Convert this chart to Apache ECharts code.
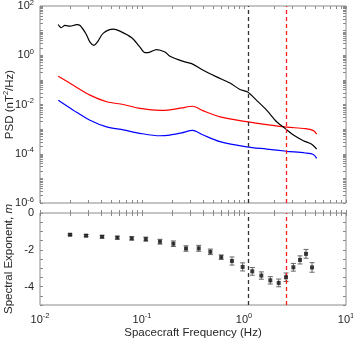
<!DOCTYPE html>
<html>
<head>
<meta charset="utf-8">
<script src="https://cdn.jsdelivr.net/npm/echarts@6/dist/echarts.min.js"></script>
<style>
  html, body { margin: 0; padding: 0; background: #fff; }
  #chart { width: 353px; height: 340px; }
</style>
</head>
<body>
<div id="chart"></div>
<script>
// total field PSD (Hz, nT^2/Hz)
var freqBlack = [0.0151, 0.0161, 0.0176, 0.0197, 0.0229, 0.0247, 0.0282, 0.0309, 0.0338, 0.0365,
  0.0418, 0.0524, 0.0608, 0.0793, 0.0955, 0.107, 0.115, 0.139, 0.168, 0.188, 0.254, 0.307, 0.399,
  0.540, 0.730, 0.914, 1.087, 1.33, 1.667, 2.09, 2.52, 3.05, 3.82, 4.61, 5.16];
var psdBlack = [17.8, 13.2, 16.2, 15.1, 17.4, 16.2, 7.5, 3.39, 2.51, 3.39,
  7.94, 11.5, 9.55, 5.13, 2.14, 1.29, 1.29, 1.70, 1.35, 0.912, 0.562, 0.457, 0.245,
  0.132, 0.0741, 0.0407, 0.0324, 0.0148, 0.00589, 0.00200, 0.00107, 0.000575, 0.000339, 0.000245, 0.000155];

// noise levels
var freqNoise = [0.0151, 0.0212, 0.0309, 0.0451, 0.0656, 0.0955, 0.150, 0.188, 0.245, 0.314,
  0.399, 0.582, 1.062, 1.667, 2.618, 3.98, 4.79, 5.16];
var psdRed = [0.141, 0.0603, 0.0240, 0.0129, 0.0100, 0.00692, 0.00575, 0.00603, 0.00724, 0.00851,
  0.00550, 0.00316, 0.00200, 0.00151, 0.00120, 0.00105, 0.000871, 0.000631];
var psdBlue = [0.0148, 0.00589, 0.00229, 0.00123, 0.000933, 0.000676, 0.000537, 0.000575, 0.000708, 0.000891,
  0.000575, 0.000309, 0.000191, 0.000155, 0.000126, 0.000107, 0.0000933, 0.0000646];

// spectral exponent fits
var fitFreq = [0.0197, 0.0283, 0.0406, 0.0573, 0.0793, 0.109, 0.150, 0.203, 0.270, 0.360, 0.468, 0.598,
  0.762, 0.970, 1.205, 1.479, 1.811, 2.188, 2.582, 3.048, 3.540, 4.055, 4.645];
var fitSlope = [-1.18, -1.23, -1.29, -1.34, -1.38, -1.42, -1.56, -1.67, -1.93, -1.92, -2.11, -2.40,
  -2.61, -2.93, -3.17, -3.40, -3.66, -3.80, -3.49, -2.95, -2.55, -2.22, -2.96];
var fitErr = [0.05, 0.06, 0.07, 0.08, 0.09, 0.11, 0.13, 0.15, 0.15, 0.16, 0.15, 0.12,
  0.22, 0.22, 0.21, 0.20, 0.20, 0.21, 0.23, 0.21, 0.22, 0.24, 0.26];

var breakBlack = 1.087;
var breakRed = 2.58;

var freqTicks = [0.01, 0.1, 1, 10];
var psdTicks = [1e-6, 1e-4, 1e-2, 1e0, 1e2];
var slopeTicks = [-4, -2, 0];

var txt = '#262626', frame = '#8a8a8a';
var font = '"Liberation Sans", Arial, sans-serif';

function logTicks(lo, hi) {
  var out = [];
  for (var e = lo; e < hi; e++) {
    for (var k = 1; k < 10; k++) out.push(k * Math.pow(10, e));
  }
  out.push(Math.pow(10, hi));
  return out;
}
var xAll = logTicks(-2, 1);
var yAll = logTicks(-6, 2);
var slopeAll = [];
for (var v = -5; v <= 0; v += 0.5) slopeAll.push(v);

function pow10(v) {
  return '{b|10}{s|' + Math.round(Math.log10(v)) + '}';
}
var rich = {
  b: { fontSize: 11, color: txt, fontFamily: font },
  s: { fontSize: 7.5, color: txt, fontFamily: font, padding: [0, 0, 7, 0] }
};

function pair(list) {
  return list[0].map(function (x, i) { return [x, list[1][i]]; });
}

function xAx(grid, pos, labels) {
  return {
    type: 'log', gridIndex: grid, position: pos, min: 0.01, max: 10,
    axisLine: { show: false },
    axisTick: { show: true, inside: true, length: 3, customValues: xAll, lineStyle: { color: frame } },
    axisLabel: labels ? {
      show: true, customValues: freqTicks, margin: 7, formatter: pow10, rich: rich
    } : { show: false },
    splitLine: { show: false },
    name: labels ? 'Spacecraft Frequency (Hz)' : '',
    nameLocation: 'middle', nameGap: 22, nameMoveOverlap: false,
    nameTextStyle: { fontSize: 11.5, color: txt, fontFamily: font }
  };
}

var dashed = function (x, color) {
  return { xAxis: x, lineStyle: { color: color, width: 1.3, type: [4, 3] } };
};
var marks = {
  silent: true, symbol: 'none', label: { show: false }, animation: false,
  data: [dashed(breakBlack, '#333'), dashed(breakRed, '#ff1a1a')]
};

var chart = echarts.init(document.getElementById('chart'));
chart.setOption({
  animation: false,
  backgroundColor: '#fff',
  textStyle: { fontFamily: font },
  grid: [
    { left: 40, right: 7, top: 6, height: 197, show: true, borderColor: frame, borderWidth: 1,
      containLabel: false, outerBoundsMode: 'none' },
    { left: 40, right: 7, top: 213, height: 92, show: true, borderColor: frame, borderWidth: 1,
      containLabel: false, outerBoundsMode: 'none' }
  ],
  xAxis: [xAx(0, 'bottom', false), xAx(0, 'top', false), xAx(1, 'bottom', true), xAx(1, 'top', false)],
  yAxis: [
    {
      type: 'log', gridIndex: 0, position: 'left', min: 1e-6, max: 1e2,
      axisLine: { show: false }, splitLine: { show: false },
      axisTick: { inside: true, length: 3, customValues: yAll, lineStyle: { color: frame } },
      axisLabel: { customValues: psdTicks, margin: 6, formatter: pow10, rich: rich },
      name: '{a|PSD (nT}{s|2}{a|/Hz)}', nameLocation: 'middle', nameGap: 23, nameRotate: 90,
      nameMoveOverlap: false,
      nameTextStyle: {
        rich: {
          a: { fontSize: 11.5, color: txt, fontFamily: font },
          s: { fontSize: 7.5, color: txt, fontFamily: font, padding: [0, 0, 7, 0] }
        }
      }
    },
    {
      type: 'log', gridIndex: 0, position: 'right', min: 1e-6, max: 1e2,
      axisLine: { show: false }, splitLine: { show: false },
      axisTick: { inside: true, length: 3, customValues: yAll, lineStyle: { color: frame } },
      axisLabel: { show: false }
    },
    {
      type: 'value', gridIndex: 1, position: 'left', min: -5, max: 0,
      axisLine: { show: false }, splitLine: { show: false },
      axisTick: { inside: true, length: 3, customValues: slopeAll, lineStyle: { color: frame } },
      axisLabel: { customValues: slopeTicks, margin: 6, color: txt, fontSize: 11, fontFamily: font },
      name: '{a|Spectral Exponent, }{i|m}', nameLocation: 'middle', nameGap: 25, nameRotate: 90,
      nameMoveOverlap: false,
      nameTextStyle: {
        rich: {
          a: { fontSize: 11.5, color: txt, fontFamily: font },
          i: { fontSize: 11.5, color: txt, fontFamily: font, fontStyle: 'italic' }
        }
      }
    },
    {
      type: 'value', gridIndex: 1, position: 'right', min: -5, max: 0,
      axisLine: { show: false }, splitLine: { show: false },
      axisTick: { inside: true, length: 3, customValues: slopeAll, lineStyle: { color: frame } },
      axisLabel: { show: false }
    }
  ],
  series: [
    {
      type: 'line', xAxisIndex: 0, yAxisIndex: 0, data: pair([freqNoise, psdRed]),
      showSymbol: false, smooth: 0.3, lineStyle: { color: '#ff0000', width: 1.2 }
    },
    {
      type: 'line', xAxisIndex: 0, yAxisIndex: 0, data: pair([freqNoise, psdBlue]),
      showSymbol: false, smooth: 0.3, lineStyle: { color: '#0000ff', width: 1.2 }
    },
    {
      type: 'line', xAxisIndex: 0, yAxisIndex: 0, data: pair([freqBlack, psdBlack]),
      showSymbol: false, smooth: 0.3, lineStyle: { color: '#000', width: 1.2 }, z: 3,
      markLine: marks
    },
    {
      type: 'custom', xAxisIndex: 2, yAxisIndex: 2,
      data: fitFreq.map(function (f, i) { return [f, fitSlope[i], fitErr[i]]; }),
      renderItem: function (params, api) {
        var x = api.value(0), y = api.value(1), e = api.value(2);
        var t = api.coord([x, y + e]), b = api.coord([x, y - e]);
        var hw = 2.5, st = { stroke: '#666', lineWidth: 1 };
        return {
          type: 'group', children: [
            { type: 'line', shape: { x1: t[0], y1: t[1], x2: b[0], y2: b[1] }, style: st },
            { type: 'line', shape: { x1: t[0] - hw, y1: t[1], x2: t[0] + hw, y2: t[1] }, style: st },
            { type: 'line', shape: { x1: b[0] - hw, y1: b[1], x2: b[0] + hw, y2: b[1] }, style: st }
          ]
        };
      },
      markLine: marks
    },
    {
      type: 'scatter', xAxisIndex: 2, yAxisIndex: 2, data: pair([fitFreq, fitSlope]),
      symbol: 'rect', symbolSize: 4, itemStyle: { color: '#111' }, z: 5
    }
  ]
});
</script>
</body>
</html>
